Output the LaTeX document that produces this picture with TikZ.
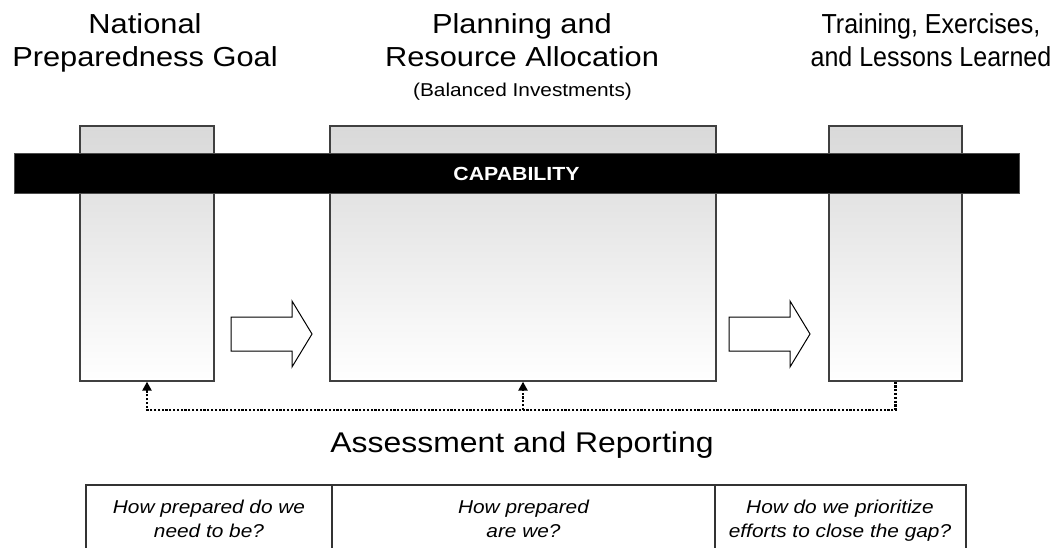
\documentclass[tikz,border=0pt]{standalone}
\usepackage{fontspec}
\setmainfont{Liberation Sans}[FakeStretch=1.12]
\newfontfamily\slimfont{Liberation Sans}[FakeStretch=0.91]
\usetikzlibrary{
	arrows.meta,
	positioning,
	calc
}

\begin{document}
\begin{tikzpicture}[x=1pt,y=-1pt,
 stagebox/.style = {draw=black!75,line width=1.3pt,top color=black!15,bottom color=white,minimum height=255pt,inner sep=0pt},
 bar/.style = {draw=black!70,fill=black,line width=0.6pt},
 heading/.style = {align=center,font=\fontsize{27.5}{33}\selectfont,inner sep=0pt,anchor=base},
 note/.style = {align=center,font=\fontsize{18.6}{24}\selectfont,inner sep=0pt,anchor=base},
 question/.style = {align=center,font=\fontsize{18.6}{24}\selectfont\itshape,inner sep=0pt,anchor=base},
 blockarrow/.style = {draw=black,line width=1pt,fill=white,line join=miter},
 feedback/.style = {line width=2.6pt,dash pattern=on 2.2pt off 1.6pt,-{Triangle[length=9pt,width=9pt]}},
 grid/.style = {draw=black!80,line width=1.3pt}
]
\useasboundingbox (0,0) rectangle (1052,548);

% headings
\node[heading] (t1) at (145,67) {National\\Preparedness Goal};
\node[heading] (t2) at (522,67) {Planning and\\Resource Allocation};
\node[note] (t2b) at (522.5,97) {(Balanced Investments)};
\node[heading,font=\fontsize{27.5}{33}\selectfont\slimfont] (t3) at (931,67) {Training, Exercises,\\and Lessons Learned};

% stages
\node[stagebox,minimum width=134pt] (goal)  at (147,253.5) {};
\node[stagebox,minimum width=386pt] (plan)  at (523,253.5) {};
\node[stagebox,minimum width=133pt] (train) at (895.5,253.5) {};

% capability bar
\draw[bar] (14,153) rectangle (1019,193);
\node[font=\fontsize{19}{22}\selectfont\bfseries,text=white,inner sep=0pt,anchor=base] (cap) at (516.5,181) {CAPABILITY};

% block arrows
\foreach \x in {231,729}
  \draw[blockarrow] (\x,317) -- ++(61,0) -- ++(0,-16) -- ++(20,33) -- ++(-20,33) -- ++(0,-16) -- ++(-61,0) -- cycle;

% assessment loop
\coordinate (loop) at (0,410);
\draw[feedback] (train.south) -- (train.south |- loop) -- (goal.south |- loop) -- (goal.south);
\draw[feedback] (plan.south |- loop) -- (plan.south);
\node[heading,font=\fontsize{28.5}{33}\selectfont] (assess) at (522,452) {Assessment and Reporting};

% questions
\draw[grid] (86,548) |- (966,485) -- (966,548);
\draw[grid] (332,485) -- (332,548);
\draw[grid] (715,485) -- (715,548);
\node[question] (q1) at (209,537) {How prepared do we\\need to be?};
\node[question] (q2) at (523.5,537) {How prepared\\are we?};
\node[question] (q3) at (840,537) {How do we prioritize\\efforts to close the gap?};
\end{tikzpicture}
\end{document}
